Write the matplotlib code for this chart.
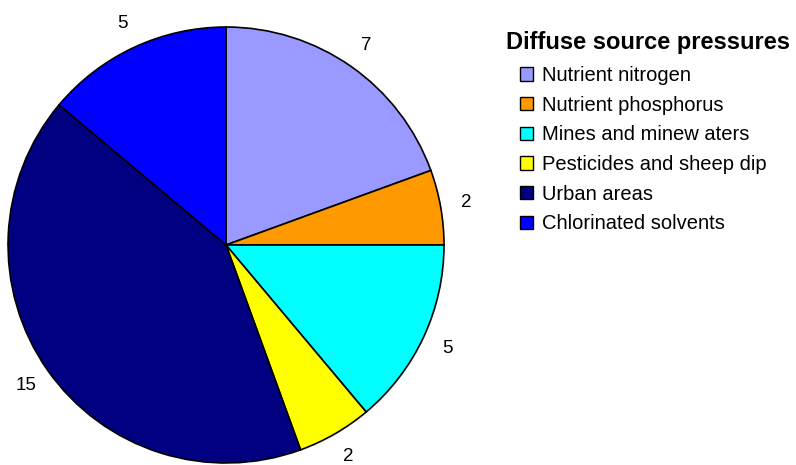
import matplotlib.pyplot as plt

plt.rcParams['font.family'] = ['Liberation Sans', 'DejaVu Sans']

categories = ["Nutrient nitrogen", "Nutrient phosphorus", "Mines and minew aters",
              "Pesticides and sheep dip", "Urban areas", "Chlorinated solvents"]
counts = [7, 2, 5, 2, 15, 5]
colors = ["#9999FF", "#FF9900", "#00FFFF", "#FFFF00", "#000080", "#0000FF"]

fig = plt.figure(figsize=(7.96, 4.65), dpi=100)
ax = fig.add_axes([0.0101, 0.0043, 0.5477, 0.9376])

wedges, texts = ax.pie(counts, labels=[str(c) for c in counts], colors=colors,
                       startangle=90, counterclock=False, labeldistance=1.12,
                       wedgeprops=dict(edgecolor="black", linewidth=1.2),
                       textprops=dict(fontsize=13.5))
for t in texts:
    t.set_ha("center")
    t.set_va("center")
ax.set_aspect("equal")
ax.set_xlim(-1, 1)
ax.set_ylim(-1, 1)
ax.axis("off")

# legend title drawn separately so the entries can be indented
fig.text(506 / 796, 1 - 42 / 465, "Diffuse source pressures", fontsize=17,
         fontweight="bold", ha="left", va="center")

leg = fig.legend(wedges, categories, loc="upper left",
                 bbox_to_anchor=(520 / 796, 1 - 66 / 465), frameon=False,
                 fontsize=14.5, handlelength=0.65, handleheight=0.65,
                 handletextpad=0.45, labelspacing=0.53,
                 borderaxespad=0, borderpad=0)
for h in leg.legend_handles:
    h.set_linewidth(1.0)

fig.savefig("out.png", dpi=100)
